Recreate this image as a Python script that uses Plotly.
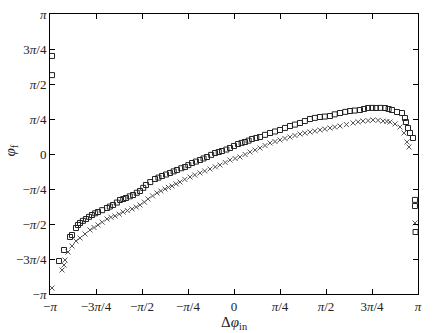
import numpy as np
import plotly.graph_objects as go

PI = np.pi

# squares series (delta phi_in, phi_f) in radians
sq_x = [-3.107, -3.107, -2.988, -2.902, -2.800, -2.766, -2.698, -2.664, -2.629, -2.580,
        -2.527, -2.475, -2.425, -2.370, -2.322, -2.250, -2.168, -2.120, -2.066, -2.000,
        -1.946, -1.890, -1.844, -1.780, -1.724, -1.660, -1.605, -1.550, -1.503, -1.430,
        -1.349, -1.290, -1.229, -1.160, -1.093, -1.030, -0.973, -0.900, -0.837, -0.780,
        -0.717, -0.650, -0.581, -0.520, -0.461, -0.390, -0.324, -0.260, -0.205, -0.130,
        -0.068, 0.000, 0.068, 0.130, 0.188, 0.250, 0.307, 0.380, 0.444, 0.530,
        0.615, 0.700, 0.785, 0.870, 0.956, 1.040, 1.127, 1.210, 1.298, 1.380,
        1.468, 1.550, 1.639, 1.720, 1.810, 1.900, 1.981, 2.060, 2.151, 2.220,
        2.288, 2.360, 2.424, 2.500, 2.578, 2.640, 2.697, 2.783, 2.868, 2.919,
        2.936, 2.971, 3.005, 3.056, 3.090, 3.090, 3.100]
sq_y = [2.20, 1.77, -2.401, -2.154, -1.862, -1.818, -1.661, -1.593, -1.548, -1.500,
        -1.459, -1.410, -1.369, -1.330, -1.302, -1.260, -1.212, -1.180, -1.144, -1.090,
        -1.032, -1.010, -0.987, -0.950, -0.920, -0.870, -0.830, -0.760, -0.696, -0.630,
        -0.561, -0.530, -0.494, -0.460, -0.426, -0.390, -0.359, -0.320, -0.292, -0.250,
        -0.202, -0.170, -0.135, -0.100, -0.067, -0.020, 0.022, 0.045, 0.067, 0.100,
        0.135, 0.180, 0.224, 0.250, 0.269, 0.300, 0.337, 0.360, 0.381, 0.430,
        0.471, 0.505, 0.539, 0.585, 0.628, 0.660, 0.696, 0.740, 0.785, 0.810,
        0.830, 0.840, 0.853, 0.890, 0.920, 0.945, 0.965, 0.975, 0.987, 1.010,
        1.032, 1.035, 1.032, 1.035, 1.032, 1.010, 0.987, 0.942, 0.920, 0.808,
        0.718, 0.583, 0.471, 0.359, -1.030, -1.167, -1.750]

# crosses series
cr_x = [-3.107, -2.936, -2.902, -2.885, -2.834, -2.766, -2.698, -2.629, -2.544, -2.459,
        -2.390, -2.322, -2.250, -2.168, -2.100, -2.032, -1.960, -1.895, -1.820, -1.741,
        -1.670, -1.605, -1.530, -1.468, -1.390, -1.315, -1.250, -1.178, -1.120, -1.059,
        -0.990, -0.922, -0.840, -0.751, -0.670, -0.581, -0.500, -0.410, -0.320, -0.239,
        -0.150, -0.068, 0.020, 0.102, 0.190, 0.273, 0.360, 0.444, 0.530, 0.615,
        0.700, 0.785, 0.870, 0.956, 1.040, 1.127, 1.210, 1.298, 1.380, 1.468,
        1.550, 1.639, 1.720, 1.810, 1.920, 2.032, 2.120, 2.202, 2.290, 2.373,
        2.460, 2.544, 2.610, 2.663, 2.749, 2.834, 2.902, 2.953, 2.988, 3.090]
cr_y = [-3.007, -2.603, -2.491, -2.379, -2.199, -2.064, -1.952, -1.885, -1.795, -1.705,
        -1.650, -1.593, -1.530, -1.459, -1.420, -1.391, -1.350, -1.302, -1.270, -1.234,
        -1.190, -1.144, -1.080, -1.010, -0.940, -0.875, -0.830, -0.785, -0.750, -0.718,
        -0.670, -0.628, -0.570, -0.516, -0.470, -0.426, -0.380, -0.337, -0.290, -0.247,
        -0.190, -0.135, -0.100, -0.067, -0.010, 0.045, 0.090, 0.135, 0.190, 0.247,
        0.280, 0.314, 0.350, 0.381, 0.415, 0.449, 0.470, 0.494, 0.515, 0.539,
        0.560, 0.583, 0.605, 0.628, 0.660, 0.696, 0.720, 0.740, 0.750, 0.763,
        0.755, 0.740, 0.730, 0.718, 0.673, 0.606, 0.471, 0.269, 0.157, -1.548]

tick_vals = [-PI, -3 * PI / 4, -PI / 2, -PI / 4, 0, PI / 4, PI / 2, 3 * PI / 4, PI]
tick_text = ["\u2212<i>\u03c0</i>", "\u22123<i>\u03c0</i>/4", "\u2212<i>\u03c0</i>/2",
             "\u2212<i>\u03c0</i>/4", "0", "<i>\u03c0</i>/4", "<i>\u03c0</i>/2",
             "3<i>\u03c0</i>/4", "<i>\u03c0</i>"]

fig = go.Figure()
fig.add_trace(go.Scatter(
    x=sq_x, y=sq_y, mode="markers",
    marker=dict(symbol="square-open", size=5, color="#222", line=dict(width=1)),
))
fig.add_trace(go.Scatter(
    x=cr_x, y=cr_y, mode="markers",
    marker=dict(symbol="x-thin-open", size=5, color="#555", line=dict(width=1, color="#555")),
))

axis_common = dict(
    tickvals=tick_vals, ticktext=tick_text, ticks="inside", ticklen=5,
    tickcolor="black", showline=True, linecolor="black", linewidth=1,
    mirror="ticks", showgrid=False, zeroline=False, automargin=False,
    tickfont=dict(family="Liberation Serif", size=13, color="#222"),
)

fig.update_layout(
    width=436, height=333,
    margin=dict(l=50, r=18, t=14, b=39),
    paper_bgcolor="white", plot_bgcolor="white",
    showlegend=False,
    xaxis=dict(range=[-PI, PI], **axis_common),
    yaxis=dict(range=[-PI, PI], **axis_common),
)

# axis titles placed by hand, as in the reference
fig.add_annotation(text="\u0394<i>\u03c6</i><sub>in</sub>", xref="paper", yref="paper",
                   x=0.5, y=-0.102, yanchor="middle", showarrow=False,
                   font=dict(family="Liberation Serif", size=15, color="#222"))
fig.add_annotation(text="<i>\u03c6</i><sub>f</sub>", xref="paper", yref="paper",
                   x=-0.105, y=0.514, xanchor="center", yanchor="middle",
                   textangle=-90, showarrow=False,
                   font=dict(family="Liberation Serif", size=15, color="#222"))

# drop the default body margin so the figure sits at the window's corner
fig.write_html("out.html", config={"displayModeBar": False},
               post_script="document.body.style.margin = '0';")
